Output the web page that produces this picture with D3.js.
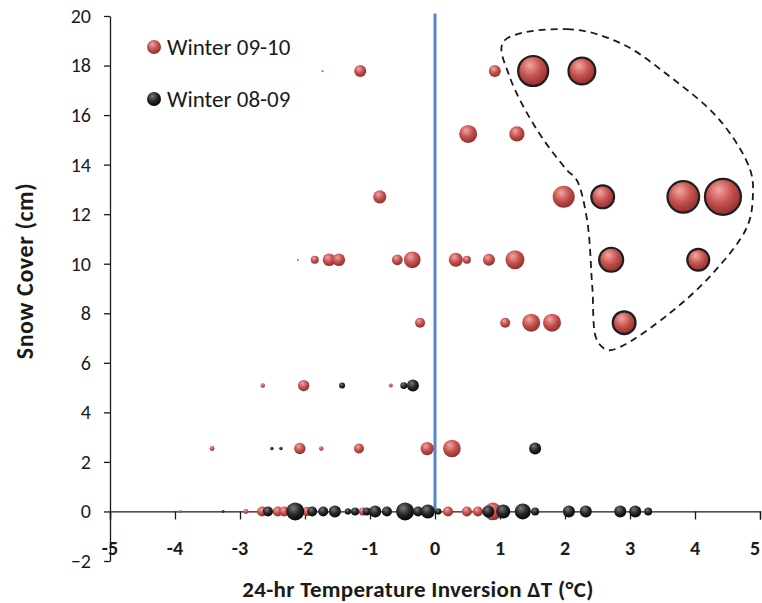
<!DOCTYPE html>
<html>
<head>
<meta charset="utf-8">
<script src="https://cdn.jsdelivr.net/npm/d3@7/dist/d3.min.js"></script>
<style>
  html, body { margin: 0; padding: 0; background: #fff; }
  svg { display: block; }
  text { font-family: Carlito, Lato, "Open Sans", sans-serif; fill: #1a1a1a; }
</style>
</head>
<body>
<svg id="chart" width="762" height="603"></svg>
<script>
// Winter 09-10: temperature inversion (°C), snow cover (cm), bubble size
const w0910X = [
  -1.73, -1.15, 0.92, 1.51, 2.26,
  0.51, 1.26,
  -0.85, 1.98, 2.58, 3.82, 4.43,
  -2.11, -1.85, -1.63, -1.48, -0.58, -0.35, 0.32, 0.49, 0.83, 1.23, 2.71, 4.05,
  -0.23, 1.08, 1.48, 1.80, 2.91,
  -2.65, -2.02, -0.68,
  -3.43, -2.08, -1.75, -1.17, -0.12, 0.26,
  -3.92, -2.91, -2.66, -2.42, -2.32, -1.97, -1.11, 0.20, 0.49, 0.66, 0.89
];
const w0910Y = [
  17.78, 17.78, 17.78, 17.78, 17.78,
  15.24, 15.24,
  12.7, 12.7, 12.7, 12.7, 12.7,
  10.16, 10.16, 10.16, 10.16, 10.16, 10.16, 10.16, 10.16, 10.16, 10.16, 10.16, 10.16,
  7.62, 7.62, 7.62, 7.62, 7.62,
  5.08, 5.08, 5.08,
  2.54, 2.54, 2.54, 2.54, 2.54, 2.54,
  0, 0, 0, 0, 0, 0, 0, 0, 0, 0, 0
];
const w0910Size = [
  0.1, 3.6, 3.6, 22.5, 18,
  8.1, 5.8,
  4.4, 12.1, 13, 25, 32.4,
  0.1, 1.6, 4, 4, 2.9, 7, 5, 1.6, 3.6, 9, 14.4, 12,
  2.5, 2.5, 8.1, 8.1, 13,
  0.5, 3.2, 0.4,
  0.6, 3.2, 0.5, 2.5, 4.4, 7.8,
  0.2, 0.6, 2.5, 2.5, 2.5, 2.2, 1.6, 2.5, 2.5, 2.5, 7.8
];

// Winter 08-09
const w0809X = [
  -1.43, -0.48, -0.34,
  -2.51, -2.37, 1.54,
  -3.26, -2.57, -2.15, -1.89, -1.72, -1.54, -1.34, -1.23, -1.05, -0.92, -0.74,
  -0.46, -0.26, -0.11, 0.05, 0.82, 1.05, 1.35, 1.54, 2.06, 2.32, 2.85, 3.08, 3.28
];
const w0809Y = [
  5.08, 5.08, 5.08,
  2.54, 2.54, 2.54,
  0, 0, 0, 0, 0, 0, 0, 0, 0, 0, 0,
  0, 0, 0, 0, 0, 0, 0, 0, 0, 0, 0, 0, 0
];
const w0809Size = [
  0.9, 1.2, 3.6,
  0.3, 0.3, 3.6,
  0.2, 2.5, 8.1, 2.5, 2.5, 3.6, 1.0, 1.6, 1.6, 3.6, 2.5,
  8.1, 2.5, 4.9, 1.0, 3.6, 4.9, 6.4, 1.6, 3.6, 3.6, 3.6, 3.6, 1.6
];

// Axis ticks
const xTicks = [-5, -4, -3, -2, -1, 0, 1, 2, 3, 4, 5];
const yTicks = [-2, 0, 2, 4, 6, 8, 10, 12, 14, 16, 18, 20];

// Zero-inversion reference line
const zeroLineX = [0, 0];
const zeroLineY = [0, 20.1];

// Dashed outline around the strong-inversion, deep-snow cluster (°C, cm)
const clusterX = [1.05, 2.03, 2.85, 3.62, 4.38, 4.85, 4.89, 4.80, 4.28, 3.62, 2.85, 2.65, 2.49, 2.42, 2.34, 2.18, 2.03, 1.57, 1.15];
const clusterY = [18.95, 19.47, 18.91, 17.54, 15.8, 13.78, 12.7, 11.48, 9.63, 8.02, 6.64, 6.52, 6.92, 9.06, 11.76, 13.38, 13.78, 15.4, 17.54];

const seriesNames = ["Winter 09-10", "Winter 08-09"];

const W = 762;
const svg = d3.select("#chart");

const x = d3.scaleLinear().domain([-5, 5]).range([110, 760]);
const y = d3.scaleLinear().domain([-2, 20]).range([561, 16]);
const r = d3.scaleSqrt().domain([0, 32.4]).range([0, 18]);

// Sphere-like shading for the bubbles
const defs = svg.append("defs");
function sphere(id, light, mid, dark) {
  const g = defs.append("radialGradient").attr("id", id)
    .attr("cx", "0.42").attr("cy", "0.36").attr("r", "0.66")
    .attr("fx", "0.38").attr("fy", "0.3");
  g.append("stop").attr("offset", "0%").attr("stop-color", light);
  g.append("stop").attr("offset", "55%").attr("stop-color", mid);
  g.append("stop").attr("offset", "100%").attr("stop-color", dark);
}
sphere("redBall", "#f2a7a4", "#c4504d", "#8a2e2c");
sphere("blackBall", "#7a7a7a", "#262626", "#050505");

// Axes
const xAxis = d3.axisBottom(x).tickValues(xTicks).tickSize(8).tickFormat("");
const gx = svg.append("g").attr("transform", `translate(0,${y(0)})`).call(xAxis);
gx.select(".domain").attr("stroke", "#1a1a1a").attr("stroke-width", 1.3);
gx.selectAll(".tick line").attr("stroke", "#1a1a1a").attr("stroke-width", 1.3);

const yAxis = d3.axisLeft(y).tickValues(yTicks).tickSize(6).tickSizeOuter(0).tickPadding(13).tickFormat(d3.format("d"));
const gy = svg.append("g").attr("transform", `translate(${x(-5)},0)`).call(yAxis);
gy.select(".domain").attr("stroke", "#1a1a1a").attr("stroke-width", 1.3);
gy.selectAll(".tick line").attr("stroke", "#1a1a1a").attr("stroke-width", 1.3);
gy.selectAll(".tick text")
  .style("font-family", "Carlito, Lato, 'Open Sans', sans-serif")
  .style("font-size", "20px").attr("fill", "#1a1a1a");

// X tick labels sit below the plot, at the low end of the y range
svg.append("g").selectAll("text").data(xTicks).join("text")
  .attr("x", d => Math.min(x(d), W - 7))
  .attr("y", y(-2) - 6)
  .attr("text-anchor", "middle")
  .style("font-size", "20px").style("font-weight", "bold")
  .text(d => d);

// Axis titles
svg.append("text")
  .attr("x", 418).attr("y", 597)
  .attr("text-anchor", "middle")
  .style("font-size", "23px").style("font-weight", "bold")
  .style("letter-spacing", "0.3px")
  .text("24-hr Temperature Inversion ΔT (°C)");

svg.append("text")
  .attr("transform", `translate(33,${271}) rotate(-90)`)
  .attr("text-anchor", "middle")
  .style("font-size", "24px").style("font-weight", "bold")
  .style("letter-spacing", "0.6px")
  .text("Snow Cover (cm)");

// Zero line
svg.append("line")
  .attr("x1", x(zeroLineX[0])).attr("x2", x(zeroLineX[1]))
  .attr("y1", y(zeroLineY[0])).attr("y2", y(zeroLineY[1]))
  .attr("stroke", "#5584cf").attr("stroke-width", 3);

// Cluster outline
const clusterPts = clusterX.map((cx, i) => [x(cx), y(clusterY[i])]);
svg.append("path")
  .attr("d", d3.line().curve(d3.curveCatmullRomClosed.alpha(0.5))(clusterPts))
  .attr("fill", "none")
  .attr("stroke", "#1a1a1a")
  .attr("stroke-width", 1.8)
  .attr("stroke-dasharray", "7,5");

// Bubbles
const red = w0910X.map((v, i) => ({ x: v, y: w0910Y[i], s: w0910Size[i] }));
const black = w0809X.map((v, i) => ({ x: v, y: w0809Y[i], s: w0809Size[i] }));

svg.append("g").selectAll("circle").data(red).join("circle")
  .attr("cx", d => x(d.x)).attr("cy", d => y(d.y))
  .attr("r", d => Math.max(0.9, r(d.s)))
  .attr("fill", "url(#redBall)")
  .attr("stroke", d => d3.polygonContains(clusterPts, [x(d.x), y(d.y)]) ? "#1e1e1e" : "none")
  .attr("stroke-width", 2.2);

svg.append("g").selectAll("circle").data(black).join("circle")
  .attr("cx", d => x(d.x)).attr("cy", d => y(d.y))
  .attr("r", d => Math.max(0.9, r(d.s)))
  .attr("fill", "url(#blackBall)");

// Legend
const legend = svg.append("g");
const legendFills = ["url(#redBall)", "url(#blackBall)"];
seriesNames.forEach((name, i) => {
  const ly = 47 + i * 52;
  legend.append("circle").attr("cx", 154).attr("cy", ly).attr("r", 7).attr("fill", legendFills[i]);
  legend.append("text").attr("x", 167).attr("y", ly + 8)
    .style("font-size", "23px").text(name);
});
</script>
</body>
</html>
